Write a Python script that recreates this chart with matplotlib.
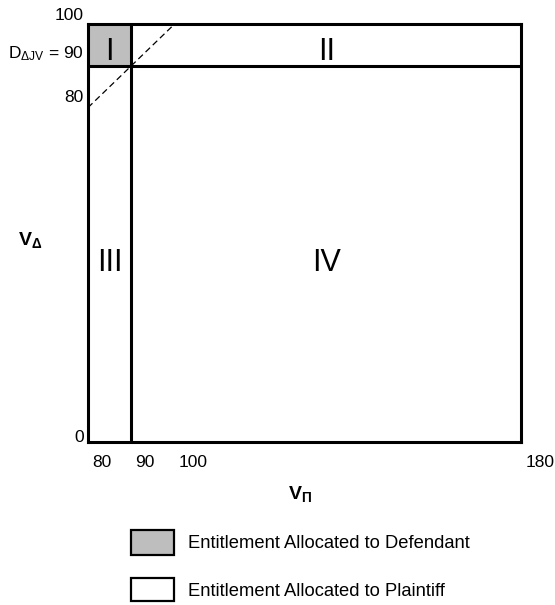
import matplotlib
matplotlib.use("Agg")
import matplotlib.pyplot as plt
import matplotlib.patches as mpatches

plt.rcParams['font.family'] = ['Liberation Sans', 'DejaVu Sans']
plt.rcParams['mathtext.fontset'] = 'custom'
plt.rcParams['mathtext.rm'] = 'Liberation Sans'
plt.rcParams['mathtext.it'] = 'Liberation Sans'
plt.rcParams['mathtext.bf'] = 'Liberation Sans:bold'

# Schematic values
x_range = [80, 180]
y_range = [0, 100]
x_ticks = [80, 90, 100, 180]
y_ticks = [0, 80, 90, 100]
y_tick_labels = ['0', '80', r'D$_{\Delta JV}$ = 90', '100']
cut_x = 90          # D_PiJV cutoff
cut_y = 90          # D_DeltaJV cutoff
diag_x = [80, 100]  # V_Delta = V_Pi line
diag_y = [80, 100]
regions = ['I', 'II', 'III', 'IV']
region_x = [85, 135, 85, 135]
region_y = [93.3, 93.3, 42.8, 42.8]
legend_labels = ['Entitlement Allocated to Defendant', 'Entitlement Allocated to Plaintiff']
shade = '#bebebe'

W, H = 555, 605
fig = plt.figure(figsize=(W / 100, H / 100), dpi=100, facecolor='white')

# main box in pixel coordinates
left, right, top, bottom = 88, 521, 24, 442
ax = fig.add_axes([left / W, 1 - bottom / H, (right - left) / W, (bottom - top) / H])
ax.set_xlim(*x_range)
ax.set_ylim(*y_range)
ax.set_xticks([])
ax.set_yticks([])
for s in ax.spines.values():
    s.set_linewidth(2.2)
    s.set_color('black')

# shaded region I
ax.add_patch(mpatches.Rectangle((x_range[0], cut_y), cut_x - x_range[0], y_range[1] - cut_y,
                                facecolor=shade, edgecolor='none', zorder=1))
ax.axvline(cut_x, color='black', lw=2.2, zorder=3)
ax.axhline(cut_y, color='black', lw=2.2, zorder=3)
ax.plot(diag_x, diag_y, color='black', lw=0.9, ls=(0, (5, 3)), zorder=2)

for lab, rx, ry in zip(regions, region_x, region_y):
    ax.text(rx, ry, lab, ha='center', va='center', fontsize=22, zorder=4)

# tick labels
for xv in x_ticks:
    ax.annotate(str(xv), xy=(xv, 0), xycoords='data', xytext=(3, -15),
                textcoords='offset points', ha='left', va='center', fontsize=12.5,
                annotation_clip=False)
y_off = {0: 4, 80: 10, 90: 12, 100: 8}
for yv, lab in zip(y_ticks, y_tick_labels):
    ax.annotate(lab, xy=(80, yv), xycoords='data', xytext=(-3, y_off[yv] * 0.72),
                textcoords='offset points', ha='right', va='center', fontsize=12.5,
                annotation_clip=False)

# axis labels
fig.text(30 / W, 1 - 240 / H, r'$\mathbf{V_{\Delta}}$', ha='center', va='center', fontsize=14)
fig.text(300 / W, 1 - 494 / H, r'$\mathbf{V_{\Pi}}$', ha='center', va='center', fontsize=14)

# legend
lax = fig.add_axes([0, 0, 1, 1], facecolor='none')
lax.set_xlim(0, W)
lax.set_ylim(H, 0)
lax.axis('off')
lax.add_patch(mpatches.Rectangle((131, 530), 43, 25, facecolor=shade, edgecolor='black', lw=1.6))
lax.add_patch(mpatches.Rectangle((131, 578), 43, 23, facecolor='white', edgecolor='black', lw=1.6))
lax.text(188, 544, legend_labels[0], ha='left', va='center', fontsize=13.2)
lax.text(188, 592, legend_labels[1], ha='left', va='center', fontsize=13.2)

fig.savefig('out.png', dpi=100, facecolor='white')
